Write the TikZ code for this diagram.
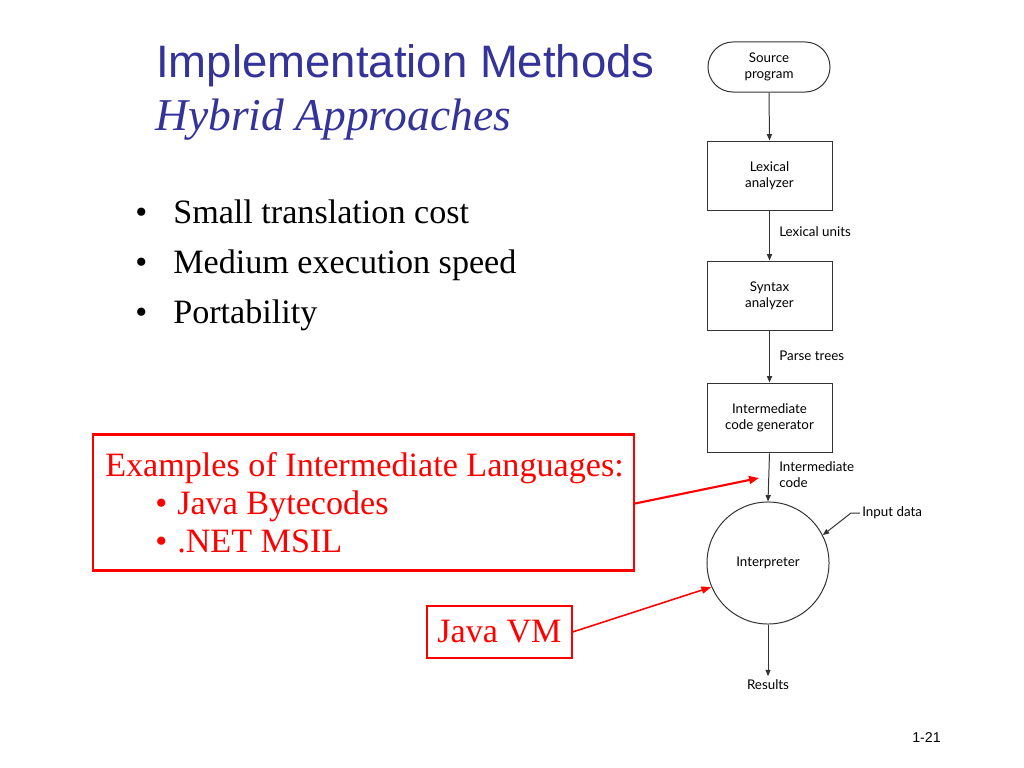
\documentclass[tikz,border=0pt]{standalone}
\usepackage{fontspec}
\setmainfont{Liberation Serif}
\newfontfamily\arialf{Liberation Sans}
\newfontfamily\flowf{Lato}
\usetikzlibrary{arrows.meta,shapes.misc}
\definecolor{titleblue}{HTML}{333399}
\definecolor{slidered}{HTML}{FF0000}
\begin{document}
\begin{tikzpicture}[x=0.703125pt,y=-0.703125pt,
  flowbox/.style={draw=black!80,line width=0.7pt,minimum width=87.9pt,minimum height=49.2pt,
     align=center,font=\flowf\fontsize{9.4}{11.25}\selectfont,inner sep=0pt},
  flowlabel/.style={font=\flowf\fontsize{9.4}{11.25}\selectfont,align=left,inner sep=0pt},
  flowarrow/.style={draw=black!80,line width=0.7pt,-{Triangle[length=4.5pt,width=3.6pt]}},
  redarrow/.style={draw=slidered,line width=1.5pt,-{Triangle[length=7pt,width=5.5pt]}},
  redarrowthin/.style={draw=slidered,line width=1.1pt,-{Triangle[length=7pt,width=5pt]}},
  bodytext/.style={font=\fontsize{24}{28}\selectfont,inner sep=0pt,anchor=base west},
  redtext/.style={bodytext,text=slidered},
]
\useasboundingbox[fill=white] (0,0) rectangle (1024,768);

% Title
\node[anchor=base west,inner sep=0pt,text=titleblue,font=\arialf\fontsize{32}{38}\selectfont] (title) at (156,78) {Implementation Methods};
\node[anchor=base west,inner sep=0pt,text=titleblue,font=\itshape\fontsize{32}{38}\selectfont] (subtitle) at (155,131) {Hybrid Approaches};

% Bullets
\node[bodytext] (b1d) at (135,224) {\textbullet};
\node[bodytext] (b1) at (173,224) {Small translation cost};
\node[bodytext] (b2d) at (135,274) {\textbullet};
\node[bodytext] (b2) at (173,274) {Medium execution speed};
\node[bodytext] (b3d) at (135,324) {\textbullet};
\node[bodytext] (b3) at (173,324) {Portability};

% Flowchart
\node[flowbox,rounded rectangle,minimum width=85.8pt,minimum height=35.2pt] (src) at (769,67) {Source\\program};
\node[flowbox] (lex) at (769.5,176) {Lexical\\analyzer};
\node[flowbox] (syn) at (769.5,296) {Syntax\\analyzer};
\node[flowbox] (icg) at (769.5,418) {Intermediate\\code generator};
\node[flowbox,circle,minimum size=85.8pt] (interp) at (768,563) {Interpreter};
\node[flowlabel,anchor=north] (res) at (768,679) {Results};

\draw[flowarrow] (src.south) -- (lex.north);
\draw[flowarrow] (lex.south) -- (syn.north);
\draw[flowarrow] (syn.south) -- (icg.north);
\draw[flowarrow] (icg.south) -- (interp.north);
\draw[flowarrow] (interp.south) -- ([yshift=2pt]res.north);

\node[flowlabel,anchor=west] (l1) at (779,232) {Lexical units};
\node[flowlabel,anchor=west] (l2) at (779,356) {Parse trees};
\node[flowlabel,anchor=west] (l3) at (779,475) {Intermediate\\code};
\node[flowlabel,anchor=west] (inp) at (862,513) {Input data};
\coordinate (inpbend) at (851,513);
\draw[flowarrow] ([xshift=-1.5pt]inp.west) -- (inpbend) -- (interp.27);

% Red box
\node[draw=slidered,line width=1.5pt,minimum width=380.4pt,minimum height=95.6pt,inner sep=0pt] (redbox) at (363.5,502.5) {};
\node[redtext] (ex) at (105,476) {Examples of Intermediate Languages:};
\node[redtext] (e1d) at (155,514) {\textbullet};
\node[redtext] (e1) at (177,514) {Java Bytecodes};
\node[redtext] (e2d) at (155,552) {\textbullet};
\node[redtext] (e2) at (177,552) {.NET MSIL};
\coordinate (icode) at (759,478);
\draw[redarrow] (redbox.east) ++(0,1) -- (icode);

% Java VM
\node[draw=slidered,line width=0.8pt,minimum width=102pt,minimum height=36.6pt,inner sep=0pt,
      text=slidered,font=\fontsize{24}{28}\selectfont] (jvm) at (499.5,632) {Java VM};
\draw[redarrowthin] (jvm.east) -- (interp.203);

% slide number
\node[anchor=base west,inner sep=0pt,font=\arialf\fontsize{10}{12}\selectfont] (num) at (912,742) {1-21};
\end{tikzpicture}
\end{document}
